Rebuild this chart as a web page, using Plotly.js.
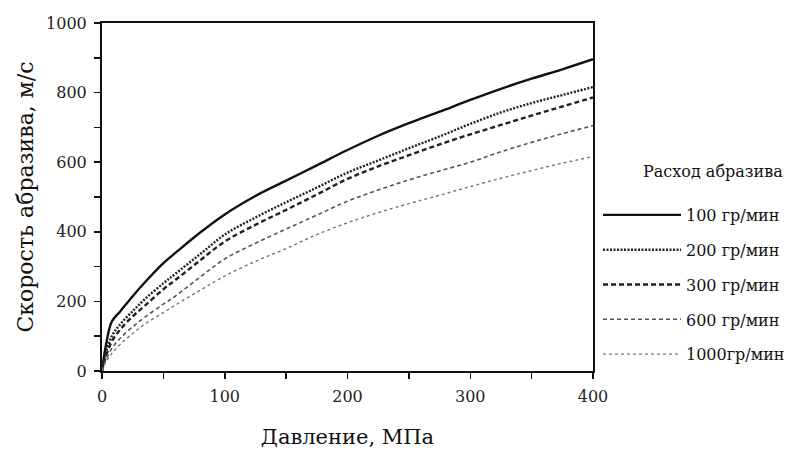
<!DOCTYPE html>
<html>
<head>
<meta charset="utf-8">
<script src="https://cdn.plot.ly/plotly-3.0.1.min.js"></script>
<style>html,body{margin:0;padding:0;background:#fff;}#chart{width:799px;height:453px;}</style>
</head>
<body>
<div id="chart"></div>
<script>
// Pressure, MPa
const pressure = [0, 3, 8, 15, 25, 35, 50, 60, 80, 100, 125, 150, 175, 200, 225, 250, 275, 300, 325, 350, 375, 400];
// Abrasive velocity, m/s, for each abrasive flow rate
const v100  = [0, 70, 142, 172, 215, 255, 310, 340, 398, 450, 503, 547, 591, 635, 676, 712, 745, 779, 811, 840, 867, 896];
const v200  = [0, 50, 100, 135, 172, 207, 252, 280, 336, 392, 441, 485, 527, 570, 605, 640, 674, 710, 743, 770, 793, 816];
const v300  = [0, 40, 85, 120, 157, 188, 235, 262, 318, 372, 420, 463, 507, 552, 588, 620, 651, 680, 707, 734, 760, 786];
const v600  = [0, 30, 65, 95, 127, 155, 192, 216, 270, 322, 367, 408, 448, 488, 520, 549, 575, 600, 630, 657, 682, 705];
const v1000 = [0, 25, 50, 77, 108, 135, 168, 190, 232, 273, 315, 352, 392, 426, 455, 481, 505, 530, 554, 576, 597, 616];
const seriesNames = ['100 гр/мин', '200 гр/мин', '300 гр/мин', '600 гр/мин', '1000гр/мин'];
const seriesValues = [v100, v200, v300, v600, v1000];
const legendTitle = 'Расход абразива';

const styles = [
  {color: '#111', width: 2.4, dash: 'solid'},
  {color: '#222', width: 2.4, dash: '2px,1.5px'},
  {color: '#222', width: 2.4, dash: '5px,3px'},
  {color: '#555', width: 1.6, dash: '4px,3px'},
  {color: '#777', width: 1.4, dash: '3px,3px'}
];

const traces = seriesValues.map((vals, i) => ({
  x: pressure, y: vals, type: 'scatter', mode: 'lines',
  name: seriesNames[i], legendgroup: 'g' + i,
  line: Object.assign({shape: 'spline', smoothing: 1}, styles[i])
}));

const serif = 'DejaVu Serif, serif';
const layout = {
  width: 799, height: 453,
  margin: {l: 102, r: 206, t: 23, b: 82},
  paper_bgcolor: '#fff', plot_bgcolor: '#fff',
  showlegend: true,
  legend: {
    xref: 'container', yref: 'container',
    x: 598 / 799, xanchor: 'left', y: 1 - 198 / 453, yanchor: 'top',
    font: {family: serif, size: 16, color: '#111'},
    itemwidth: 78, tracegroupgap: 11, traceorder: 'grouped',
    bgcolor: 'rgba(0,0,0,0)', borderwidth: 0
  },
  annotations: [{
    text: legendTitle, xref: 'paper', yref: 'paper',
    x: (713 - 102) / 491, y: (371 - 172) / 348, xanchor: 'center', yanchor: 'middle',
    showarrow: false, font: {family: serif, size: 16, color: '#111'}
  }],
  xaxis: {
    range: [0, 400], dtick: 100, tick0: 0,
    ticks: 'outside', ticklen: 6, tickwidth: 1.5, tickcolor: '#111',
    minor: {dtick: 50, ticks: 'outside', ticklen: 6, tickwidth: 1.5, tickcolor: '#111'},
    showline: true, linewidth: 2, linecolor: '#111', mirror: true,
    showgrid: false, zeroline: false, ticklabelstandoff: 4,
    tickfont: {family: serif, size: 16, color: '#222'},
    title: {text: 'Давление, МПа', font: {family: serif, size: 21, color: '#111'}, standoff: 24}
  },
  yaxis: {
    range: [0, 1000], dtick: 200, tick0: 0,
    ticks: 'outside', ticklen: 6, tickwidth: 1.5, tickcolor: '#111',
    minor: {dtick: 100, ticks: 'outside', ticklen: 6, tickwidth: 1.5, tickcolor: '#111'},
    showline: true, linewidth: 2, linecolor: '#111', mirror: true,
    showgrid: false, zeroline: false, ticklabelstandoff: 4,
    tickfont: {family: serif, size: 16, color: '#222'},
    title: {text: 'Скорость абразива, м/с', font: {family: serif, size: 22, color: '#111'}, standoff: 6}
  }
};

Plotly.newPlot('chart', traces, layout, {displayModeBar: false, staticPlot: true});
</script>
</body>
</html>
